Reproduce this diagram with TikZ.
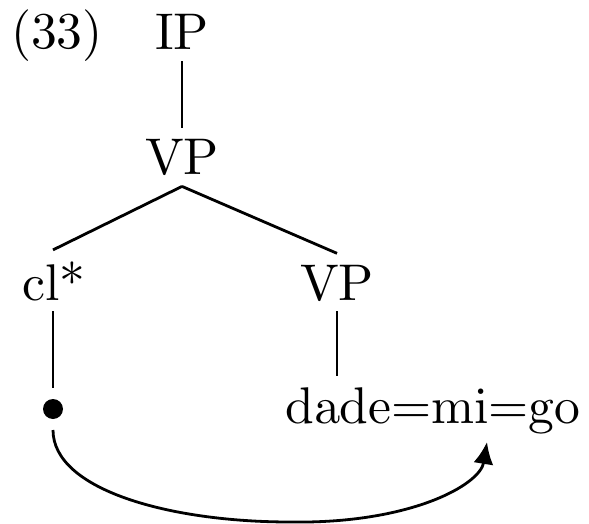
\documentclass[tikz,border=0pt]{standalone}
\usetikzlibrary{arrows.meta}
\font\bigrm=cmr10 at 25.8pt
\begin{document}
\begin{tikzpicture}[x=0.5pt,y=-0.5pt,
  lab/.style={font=\bigrm, inner xsep=0pt, inner ysep=5.5pt, anchor=base},
  edge/.style={line width=1.4pt},
  bullet/.style={circle, fill=black, inner sep=0pt, minimum size=10pt, outer sep=5.5pt},
]
\useasboundingbox (0,0) rectangle (589,524);
\node[lab] (ex) at (57,49) {(33)};
\node[lab] (ip) at (182,50) {IP};
\node[lab] (vp) at (182,175) {VP};
\node[lab, anchor=base west] (cl) at (22,300) {cl*};
\node[lab] (vp2) at (337,300) {VP};
\node[lab, anchor=base west] (dade) at (285,423) {dade=mi=go};
\node[bullet] (dot) at (53,409) {};
\coordinate (tip) at (487,442);
\draw[edge] (ip.south) -- (vp.north);
\draw[edge] (vp.south) -- (dot |- cl.north);
\draw[edge] (vp.south) -- (vp2.north);
\draw[edge] (dot |- cl.south) -- (dot.north);
\draw[edge] (vp2.south) -- (vp2 |- dade.north);
\draw[edge, -{Latex[length=11pt,width=10pt]}] (dot.south)
  .. controls (53,490) and (170,522) .. (290,522)
  .. controls (410,524) and (480,485) .. (tip);
\end{tikzpicture}
\end{document}
